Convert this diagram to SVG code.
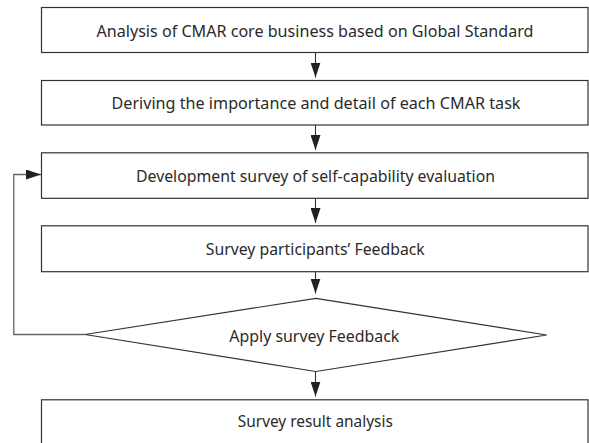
<svg xmlns="http://www.w3.org/2000/svg" width="589" height="443" viewBox="0 0 589 443">
  <style>
    .box { fill: #ffffff; stroke: #333333; stroke-width: 1.2; }
    .label { font-family: "Noto Sans", "Open Sans", sans-serif; font-size: 17px; fill: #2a2a2a; text-anchor: middle; }
    .flow { fill: none; stroke: #333333; stroke-width: 1.1; }
    .loop { fill: none; stroke: #666666; stroke-width: 1.3; }
  </style>
  <defs>
    <marker id="arrow" viewBox="0 0 15 10" refX="15" refY="5" markerWidth="15" markerHeight="10" markerUnits="userSpaceOnUse" orient="auto">
      <path d="M0,0 L15,5 L0,10 Z" fill="#222222"/>
    </marker>
  </defs>

  <rect width="589" height="443" fill="#ffffff"/>

  <!-- connectors -->
  <g id="connectors">
    <line class="flow" x1="315.5" y1="52.5" x2="315.5" y2="77.5" marker-end="url(#arrow)"/>
    <line class="flow" x1="315.5" y1="125" x2="315.5" y2="150" marker-end="url(#arrow)"/>
    <line class="flow" x1="315.5" y1="198.3" x2="315.5" y2="223" marker-end="url(#arrow)"/>
    <line class="flow" x1="315.5" y1="271.7" x2="315.5" y2="293.5" marker-end="url(#arrow)"/>
    <line class="flow" x1="315.5" y1="371.5" x2="315.5" y2="396.5" marker-end="url(#arrow)"/>
    <!-- feedback loop back to the survey development step -->
    <path class="loop" d="M85,334.5 H13.8 V174.5 H41" marker-end="url(#arrow)"/>
  </g>

  <g id="n1">
    <rect class="box" x="41.5" y="7.5" width="546.5" height="45"/>
    <text class="label" x="315" y="36.5" textLength="437" lengthAdjust="spacingAndGlyphs">Analysis of CMAR core business based on Global Standard</text>
  </g>

  <g id="n2">
    <rect class="box" x="41.5" y="80.5" width="546.5" height="44.5"/>
    <text class="label" x="316" y="109" textLength="409" lengthAdjust="spacingAndGlyphs">Deriving the importance and detail of each CMAR task</text>
  </g>

  <g id="n3">
    <rect class="box" x="41.5" y="152.8" width="546.5" height="45.5"/>
    <text class="label" x="315.5" y="182" textLength="359" lengthAdjust="spacingAndGlyphs">Development survey of self-capability evaluation</text>
  </g>

  <g id="n4">
    <rect class="box" x="41.5" y="225.8" width="546.5" height="45.9"/>
    <text class="label" x="315.3" y="255" textLength="219" lengthAdjust="spacingAndGlyphs">Survey participants’ Feedback</text>
  </g>

  <g id="n5">
    <polygon class="box" points="315.8,298.3 546.7,335 315.8,371.5 85,334.5"/>
    <text class="label" x="314.3" y="341.5" textLength="170" lengthAdjust="spacingAndGlyphs">Apply survey Feedback</text>
  </g>

  <g id="n6">
    <rect class="box" x="41.5" y="399.8" width="546.5" height="60"/>
    <text class="label" x="315.3" y="426.5" textLength="155" lengthAdjust="spacingAndGlyphs">Survey result analysis</text>
  </g>
</svg>
